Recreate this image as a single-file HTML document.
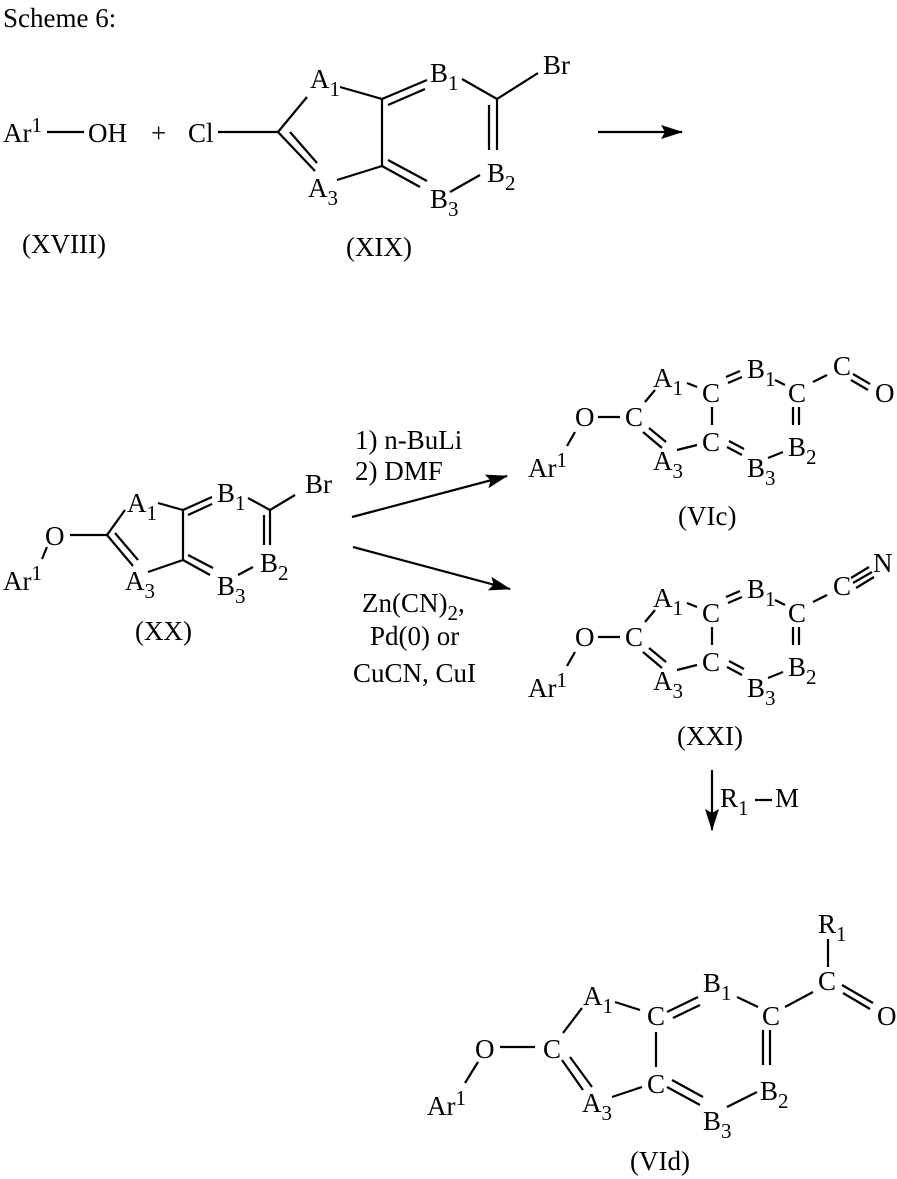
<!DOCTYPE html>
<html><head><meta charset="utf-8"><style>
html,body{margin:0;padding:0;background:#fff;}
svg{display:block;}
text{font-family:"Liberation Serif",serif;font-size:27px;fill:#000;}
.s{font-size:21px;}
line{stroke:#000;stroke-width:2.2;}
</style></head><body>
<svg width="897" height="1179" viewBox="0 0 897 1179">
<defs><marker id="ah" markerWidth="22" markerHeight="14" refX="21" refY="7" orient="auto" markerUnits="userSpaceOnUse"><path d="M0,0 L22,7 L0,14 L4,7 z" fill="#000"/></marker></defs>

<text x="3" y="27">Scheme 6:</text>

<!-- top row -->
<text x="3" y="142">Ar<tspan class="s" dy="-10">1</tspan></text>
<line x1="47" y1="132" x2="84" y2="132"/>
<text x="88" y="142">OH</text>
<text x="151" y="142">+</text>
<text x="188" y="142">Cl</text>
<line x1="218" y1="132" x2="278" y2="132"/>
<line x1="278" y1="132" x2="307" y2="97"/>
<line x1="340" y1="87" x2="382" y2="99"/>
<line x1="382" y1="99" x2="382" y2="166"/>
<line x1="278" y1="132" x2="315" y2="171"/>
<line x1="290" y1="132" x2="317" y2="163"/>
<line x1="337" y1="180" x2="382" y2="166"/>
<line x1="382" y1="99" x2="427" y2="80"/>
<line x1="388" y1="105" x2="425" y2="89"/>
<line x1="462" y1="79" x2="497" y2="99"/>
<line x1="497" y1="99" x2="538" y2="73"/>
<line x1="497" y1="99" x2="497" y2="150"/>
<line x1="489" y1="105" x2="489" y2="150"/>
<line x1="480" y1="175" x2="450" y2="192"/>
<line x1="382" y1="166" x2="420" y2="187"/>
<line x1="388" y1="160" x2="427" y2="181"/>
<text x="310" y="88">A<tspan class="s" dy="8">1</tspan></text>
<text x="308" y="197">A<tspan class="s" dy="8">3</tspan></text>
<text x="430" y="82">B<tspan class="s" dy="8">1</tspan></text>
<text x="543" y="74">Br</text>
<text x="487" y="182">B<tspan class="s" dy="8">2</tspan></text>
<text x="430" y="208">B<tspan class="s" dy="8">3</tspan></text>
<line x1="598" y1="132" x2="682" y2="132" marker-end="url(#ah)"/>
<text x="22" y="253">(XVIII)</text>
<text x="346" y="256">(XIX)</text>

<!-- XX -->
<text x="3" y="590">Ar<tspan class="s" dy="-10">1</tspan></text>
<text x="45" y="545">O</text>
<line x1="47" y1="547" x2="42" y2="559"/>
<line x1="70" y1="535" x2="107" y2="535"/>
<line x1="107" y1="535" x2="125" y2="510"/>
<line x1="158" y1="503" x2="183" y2="510"/>
<line x1="183" y1="510" x2="183" y2="560"/>
<line x1="107" y1="535" x2="133" y2="566"/>
<line x1="115" y1="533" x2="138" y2="560"/>
<line x1="148" y1="572" x2="183" y2="560"/>
<line x1="183" y1="510" x2="212" y2="497"/>
<line x1="188" y1="515" x2="212" y2="504"/>
<line x1="248" y1="498" x2="270" y2="510"/>
<line x1="270" y1="510" x2="295" y2="495"/>
<line x1="270" y1="510" x2="270" y2="545"/>
<line x1="264" y1="515" x2="264" y2="545"/>
<line x1="253" y1="567" x2="238" y2="575"/>
<line x1="183" y1="560" x2="210" y2="575"/>
<line x1="188" y1="555" x2="213" y2="568"/>
<text x="127" y="512">A<tspan class="s" dy="8">1</tspan></text>
<text x="125" y="590">A<tspan class="s" dy="8">3</tspan></text>
<text x="217" y="502">B<tspan class="s" dy="8">1</tspan></text>
<text x="305" y="493">Br</text>
<text x="260" y="572">B<tspan class="s" dy="8">2</tspan></text>
<text x="217" y="595">B<tspan class="s" dy="8">3</tspan></text>
<text x="135" y="640">(XX)</text>

<!-- reagents -->
<text x="355" y="449">1) n-BuLi</text>
<text x="355" y="480">2) DMF</text>
<line x1="352" y1="517" x2="507" y2="476" marker-end="url(#ah)"/>
<line x1="353" y1="547" x2="510" y2="589" marker-end="url(#ah)"/>
<text x="362" y="612">Zn(CN)<tspan class="s" dy="8">2</tspan><tspan dy="-8">,</tspan></text>
<text x="370" y="645">Pd(0) or</text>
<text x="353" y="682">CuCN, CuI</text>

<!-- VIc -->
<g transform="translate(0,-220)">
<text x="528" y="697">Ar<tspan class="s" dy="-10">1</tspan></text>
<text x="575" y="646">O</text>
<line x1="575" y1="652" x2="567" y2="666"/>
<line x1="598" y1="637" x2="620" y2="637"/>
<text x="625" y="646">C</text>
<line x1="645" y1="622" x2="655" y2="610"/>
<text x="653" y="607">A<tspan class="s" dy="8">1</tspan></text>
<line x1="687" y1="603" x2="697" y2="607"/>
<text x="702" y="622">C</text>
<line x1="728" y1="603" x2="742" y2="597"/>
<line x1="726" y1="597" x2="740" y2="591"/>
<text x="747" y="598">B<tspan class="s" dy="8">1</tspan></text>
<line x1="775" y1="600" x2="785" y2="605"/>
<text x="788" y="622">C</text>
<line x1="793" y1="627" x2="793" y2="645"/>
<line x1="799" y1="627" x2="799" y2="645"/>
<text x="788" y="676">B<tspan class="s" dy="8">2</tspan></text>
<line x1="783" y1="672" x2="768" y2="678"/>
<text x="747" y="697">B<tspan class="s" dy="8">3</tspan></text>
<text x="702" y="671">C</text>
<line x1="712" y1="627" x2="712" y2="645"/>
<line x1="727" y1="667" x2="742" y2="675"/>
<line x1="729" y1="661" x2="744" y2="669"/>
<text x="653" y="690">A<tspan class="s" dy="8">3</tspan></text>
<line x1="677" y1="670" x2="697" y2="665"/>
<line x1="643" y1="652" x2="662" y2="668"/>
<line x1="649" y1="648" x2="666" y2="662"/>
<line x1="813" y1="602" x2="827" y2="595"/>
</g>
<text x="833" y="375">C</text>
<line x1="853" y1="374" x2="870" y2="384"/>
<line x1="851" y1="380" x2="868" y2="390"/>
<text x="875" y="402">O</text>
<text x="678" y="525">(VIc)</text>

<!-- XXI -->
<text x="528" y="697">Ar<tspan class="s" dy="-10">1</tspan></text>
<text x="575" y="646">O</text>
<line x1="575" y1="652" x2="567" y2="666"/>
<line x1="598" y1="637" x2="620" y2="637"/>
<text x="625" y="646">C</text>
<line x1="645" y1="622" x2="655" y2="610"/>
<text x="653" y="607">A<tspan class="s" dy="8">1</tspan></text>
<line x1="687" y1="603" x2="697" y2="607"/>
<text x="702" y="622">C</text>
<line x1="728" y1="603" x2="742" y2="597"/>
<line x1="726" y1="597" x2="740" y2="591"/>
<text x="747" y="598">B<tspan class="s" dy="8">1</tspan></text>
<line x1="775" y1="600" x2="785" y2="605"/>
<text x="788" y="622">C</text>
<line x1="793" y1="627" x2="793" y2="645"/>
<line x1="799" y1="627" x2="799" y2="645"/>
<text x="788" y="676">B<tspan class="s" dy="8">2</tspan></text>
<line x1="783" y1="672" x2="768" y2="678"/>
<text x="747" y="697">B<tspan class="s" dy="8">3</tspan></text>
<text x="702" y="671">C</text>
<line x1="712" y1="627" x2="712" y2="645"/>
<line x1="727" y1="667" x2="742" y2="675"/>
<line x1="729" y1="661" x2="744" y2="669"/>
<text x="653" y="690">A<tspan class="s" dy="8">3</tspan></text>
<line x1="677" y1="670" x2="697" y2="665"/>
<line x1="643" y1="652" x2="662" y2="668"/>
<line x1="649" y1="648" x2="666" y2="662"/>
<line x1="813" y1="602" x2="827" y2="595"/>
<text x="833" y="595">C</text>
<line x1="853" y1="583" x2="872" y2="572"/>
<line x1="851" y1="578" x2="869" y2="567"/>
<line x1="856" y1="588" x2="874" y2="577"/>
<text x="873" y="572">N</text>
<text x="677" y="745">(XXI)</text>

<!-- R1-M arrow -->
<line x1="712" y1="770" x2="712" y2="830" marker-end="url(#ah)"/>
<text x="720" y="807">R<tspan class="s" dy="8">1</tspan></text>
<line x1="755" y1="800" x2="772" y2="800"/>
<text x="775" y="807">M</text>

<!-- VId -->
<text x="818" y="933">R<tspan class="s" dy="8">1</tspan></text>
<line x1="828" y1="939" x2="828" y2="967"/>
<text x="818" y="990">C</text>
<line x1="842" y1="985" x2="873" y2="1003"/>
<line x1="843" y1="993" x2="870" y2="1009"/>
<text x="877" y="1025">O</text>
<text x="762" y="1025">C</text>
<line x1="785" y1="1007" x2="813" y2="992"/>
<text x="703" y="992">B<tspan class="s" dy="8">1</tspan></text>
<line x1="737" y1="997" x2="758" y2="1007"/>
<text x="647" y="1025">C</text>
<line x1="667" y1="1012" x2="698" y2="997"/>
<line x1="673" y1="1018" x2="700" y2="1005"/>
<text x="583" y="1005">A<tspan class="s" dy="8">1</tspan></text>
<line x1="615" y1="1002" x2="640" y2="1010"/>
<text x="543" y="1058">C</text>
<text x="475" y="1058">O</text>
<line x1="500" y1="1047" x2="535" y2="1047"/>
<text x="427" y="1115">Ar<tspan class="s" dy="-10">1</tspan></text>
<line x1="478" y1="1062" x2="465" y2="1083"/>
<line x1="563" y1="1033" x2="582" y2="1008"/>
<line x1="562" y1="1060" x2="583" y2="1090"/>
<line x1="570" y1="1057" x2="592" y2="1087"/>
<text x="582" y="1112">A<tspan class="s" dy="8">3</tspan></text>
<line x1="612" y1="1097" x2="642" y2="1087"/>
<text x="647" y="1093">C</text>
<line x1="656" y1="1032" x2="656" y2="1067"/>
<line x1="667" y1="1087" x2="700" y2="1105"/>
<line x1="672" y1="1080" x2="703" y2="1097"/>
<text x="703" y="1130">B<tspan class="s" dy="8">3</tspan></text>
<text x="760" y="1100">B<tspan class="s" dy="8">2</tspan></text>
<line x1="757" y1="1092" x2="727" y2="1107"/>
<line x1="763" y1="1030" x2="763" y2="1065"/>
<line x1="770" y1="1030" x2="770" y2="1065"/>
<text x="630" y="1170">(VId)</text>
</svg>
</body></html>
